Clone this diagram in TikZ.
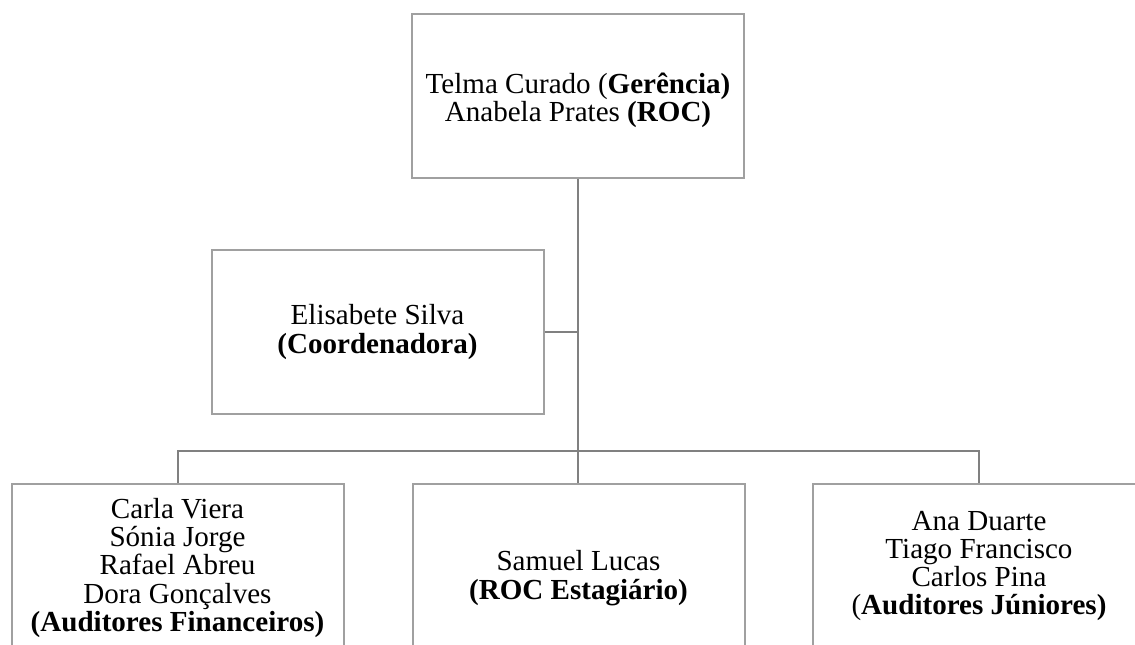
\documentclass[tikz,border=0pt]{standalone}
\usepackage{fontspec}
\setmainfont{Liberation Serif}
\definecolor{boxgray}{RGB}{160,160,160}
\definecolor{linegray}{RGB}{128,128,128}
\begin{document}
\begin{tikzpicture}[x=0.75pt,y=-0.75pt,
  orgbox/.style={draw=boxgray,line width=1.5pt,minimum width=249pt,minimum height=123pt,inner sep=0pt},
  orgtext/.style={inner sep=0pt,align=center,font=\fontsize{21.8pt}{21.2pt}\selectfont},
  conn/.style={draw=linegray,line width=1.5pt}]
\clip (0,0) rectangle (1135,645);
\fill[white] (0,0) rectangle (1135,645);
\node[orgbox] (top) at (578,96) {};
\node[orgbox] (eli) at (377.5,332) {};
\node[orgbox] (left) at (177.5,566) {};
\node[orgbox] (mid) at (578.5,566) {};
\node[orgbox] (right) at (979,566) {};
\node[orgtext] (toptext) at (578,100) {Telma Curado (\textbf{Gerência)}\\Anabela Prates \textbf{(ROC)}};
\node[orgtext] (elitext) at (377.5,332) {Elisabete Silva\\\textbf{(Coordenadora)}};
\node[orgtext] (lefttext) at (177.5,568) {Carla Viera\\Sónia Jorge\\Rafael Abreu\\Dora Gonçalves\\\textbf{(Auditores Financeiros)}};
\node[orgtext] (midtext) at (578.5,578) {Samuel Lucas\\\textbf{(ROC Estagiário)}};
\node[orgtext] (righttext) at (979,566) {Ana Duarte\\Tiago Francisco\\Carlos Pina\\(\textbf{Auditores Júniores)}};
\coordinate (bus) at (578,451);
\draw[conn] (top.south) -- (bus);
\draw[conn] (eli.east) -- (eli.east -| bus);
\draw[conn] (left.north) |- (bus) -| (right.north);
\draw[conn] (bus) -- (bus |- mid.north);
\end{tikzpicture}
\end{document}
